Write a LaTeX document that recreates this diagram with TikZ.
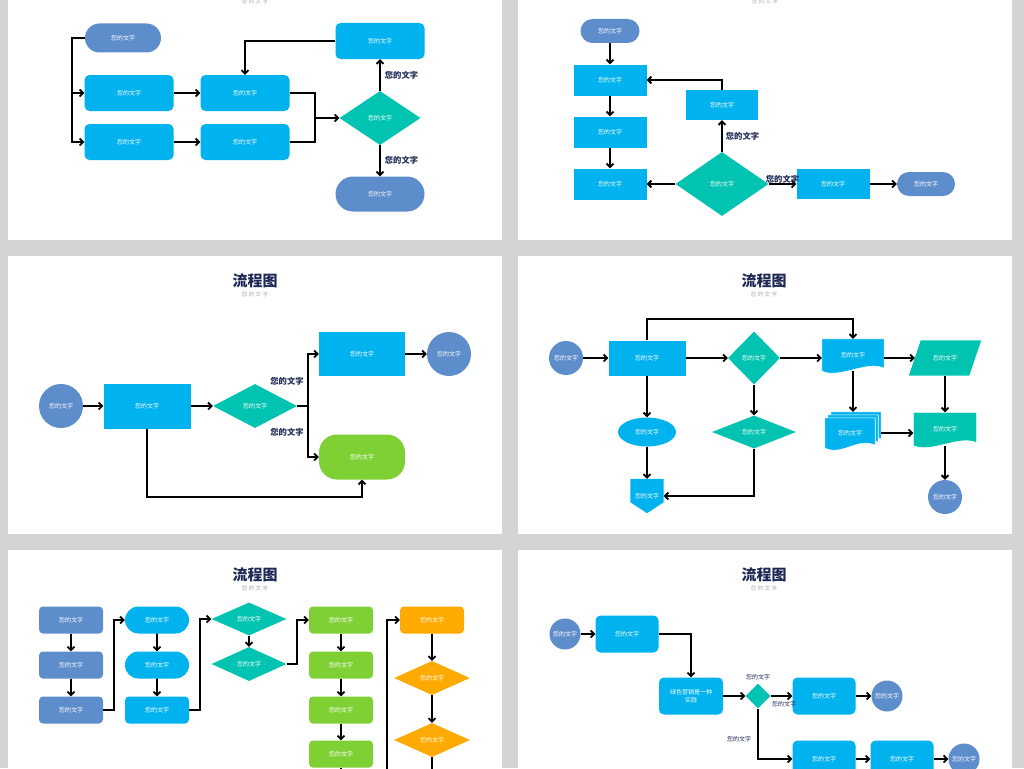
\documentclass[tikz,border=0pt]{standalone}
\usepackage{fontspec}
\newfontfamily\cjk{Noto Sans CJK SC}
\newfontfamily\cjksp{Noto Sans CJK SC}[LetterSpace=25]
\usetikzlibrary{shapes.geometric,shapes.misc,arrows.meta,calc}
\definecolor{bgc}{HTML}{D4D4D4}
\definecolor{steel}{HTML}{5E8DCB}
\definecolor{cyanc}{HTML}{00B2EE}
\definecolor{tealc}{HTML}{00C4B1}
\definecolor{greenc}{HTML}{7FD035}
\definecolor{orangec}{HTML}{FFAA00}
\definecolor{navy}{HTML}{1E2A55}
\definecolor{subgray}{HTML}{A9A9A9}
\pgfdeclarelayer{back}
\pgfdeclarelayer{shp}
\pgfsetlayers{back,shp,main}
\newcommand\mydocshape[3]{\filldraw[fill=#2,draw=white,line width=0.6pt] ($(#1.north west)+(#3)$) -- ($(#1.north east)+(#3)$) -- ($(#1.south east)+(#3)+(0,-3)$) .. controls +(-18,-8) and +(18,8) .. ($(#1.south west)+(#3)$) -- cycle;}
\tikzset{
  every node/.style={font=\cjk\fontsize{6}{8}\selectfont, text=white, inner sep=0pt, align=center},
  sz/.style 2 args={minimum width=#1pt, minimum height=#2pt},
  box/.style={rectangle, fill=cyanc},
  rbox/.style={rectangle, rounded corners=5pt},
  pill/.style={rounded rectangle},
  dia/.style={diamond, fill=tealc},
  circ/.style={circle, fill=steel},
  lbl/.style={font=\cjk\bfseries\fontsize{8.3}{9}\selectfont, text=navy},
  slbl/.style={font=\cjk\fontsize{6}{7}\selectfont, text=navy},
  ttl/.style={font=\cjk\bfseries\fontsize{15}{16}\selectfont, text=navy},
  sub/.style={font=\cjksp\fontsize{5.5}{6}\selectfont, text=subgray},
  ln/.style={draw=black, line width=1.8pt},
  arr/.style={ln, -{Straight Barb[length=3.5pt,width=7pt]}}
}
\begin{document}
\begin{tikzpicture}[x=1pt,y=-1pt]
\useasboundingbox (0,0) rectangle (1024,768);
\begin{pgfonlayer}{back}
\fill[bgc] (0,0) rectangle (1024,768);
\fill[white] (8,-5) rectangle (502,240);
\fill[white] (518,-5) rectangle (1012,240);
\fill[white] (8,256) rectangle (502,534);
\fill[white] (518,256) rectangle (1012,534);
\fill[white] (8,550) rectangle (502,775);
\fill[white] (518,550) rectangle (1012,775);
\end{pgfonlayer}

% ---------- Panel 1 ----------
\node[sub] (t1s) at (255,1) {您的文字};
\node[pill,fill=steel,sz={76}{29}] (a0) at (123,38) {您的文字};
\node[rbox,fill=cyanc,sz={89}{36}] (a1) at (129,93) {您的文字};
\node[rbox,fill=cyanc,sz={89}{36}] (a2) at (129,142) {您的文字};
\node[rbox,fill=cyanc,sz={89}{36}] (b1) at (245,93) {您的文字};
\node[rbox,fill=cyanc,sz={89}{36}] (b2) at (245,142) {您的文字};
\node[rbox,fill=cyanc,sz={89}{36}] (c1) at (380,41) {您的文字};
\node[dia,sz={81}{54}] (d1) at (380,118) {您的文字};
\node[pill,fill=steel,sz={89}{35}] (e1) at (380,194) {您的文字};
\coordinate (j1) at (72,93);
\coordinate (m1) at (315,118);
\draw[arr] (a0.west) -| (j1) |- (a2.west);
\draw[arr] (j1) -- (a1.west);
\draw[arr] (a1) -- (b1);
\draw[arr] (a2) -- (b2);
\draw[ln] (b1.east) -| (m1);
\draw[ln] (b2.east) -| (m1);
\draw[arr] (m1) -- (d1.west);
\draw[arr] (c1.west) -| (b1.north);
\draw[arr] (d1.north) -- node[lbl,right=4pt]{您的文字} (c1.south);
\draw[arr] (d1.south) -- node[lbl,right=4pt]{您的文字} (e1.north);

% ---------- Panel 2 ----------
\node[sub] (t2s) at (765,1) {您的文字};
\node[pill,fill=steel,sz={59}{24}] (q0) at (610,31) {您的文字};
\node[box,sz={73}{31}] (q1) at (610,80) {您的文字};
\node[box,sz={73}{31}] (q2) at (610,132) {您的文字};
\node[box,sz={73}{31}] (q3) at (610,184) {您的文字};
\node[box,sz={72}{30}] (q4) at (722,105) {您的文字};
\node[dia,sz={93}{64}] (qd) at (722,184) {您的文字};
\node[box,sz={73}{30}] (q5) at (833,184) {您的文字};
\node[pill,fill=steel,sz={58}{24}] (q6) at (926,184) {您的文字};
\draw[arr] (q0) -- (q1);
\draw[arr] (q1) -- (q2);
\draw[arr] (q2) -- (q3);
\draw[arr] (qd) -- (q3);
\draw[arr] (qd.north) -- node[lbl,right=3pt]{您的文字} (q4.south);
\draw[arr] (q4.north) |- (q1.east);
\draw[arr] (qd) -- node[lbl,yshift=5pt]{您的文字} (q5);
\draw[arr] (q5) -- (q6);

% ---------- Panel 3 ----------
\node[ttl] (t3) at (255,281) {流程图};
\node[sub] (t3s) at (255,294) {您的文字};
\node[circ,minimum size=44pt] (h0) at (61,406) {您的文字};
\node[box,sz={87}{45}] (h1) at (147,406) {您的文字};
\node[dia,sz={84}{44}] (h2) at (255,406) {您的文字};
\node[box,sz={86}{44}] (h3) at (362,354) {您的文字};
\node[circ,minimum size=44pt] (h4) at (449,354) {您的文字};
\node[rectangle,fill=greenc,rounded corners=18pt,sz={86}{45}] (h5) at (362,457) {您的文字};
\coordinate (m3) at (308,406);
\coordinate (k3) at (147,497);
\draw[arr] (h0) -- (h1);
\draw[arr] (h1) -- (h2);
\draw[ln] (h2.east) -- (m3);
\draw[arr] (m3) |- (h3.west);
\draw[arr] (m3) |- (h5.west);
\draw[arr] (h3) -- (h4);
\draw[arr] (h1.south) -- (k3) -| (h5.south);
\node[lbl] (l3a) at (287,381) {您的文字};
\node[lbl] (l3b) at (287,432) {您的文字};

% ---------- Panel 4 ----------
\node[ttl] (t4) at (764,281) {流程图};
\node[sub] (t4s) at (764,294) {您的文字};
\node[circ,minimum size=34pt] (f0) at (566,358) {您的文字};
\node[box,sz={77}{35}] (f1) at (647,358) {您的文字};
\node[dia,sz={52}{53}] (f2) at (754,358) {您的文字};
\node[sz={62}{32}] (f3) at (853,355) {您的文字};
\node[sz={60}{35}] (f4) at (945,358) {您的文字};
\node[ellipse,fill=cyanc,sz={58}{29}] (f5) at (647,432) {您的文字};
\node[dia,sz={84}{33}] (f6) at (754,432) {您的文字};
\node[sz={50}{30}] (f7) at (850,433) {您的文字};
\node[sz={63}{33}] (f8) at (945,429) {您的文字};
\node[sz={33}{34}] (f9) at (647,496) {您的文字};
\node[circ,minimum size=34pt] (f10) at (945,497) {您的文字};
\begin{pgfonlayer}{shp}
\mydocshape{f3}{cyanc}{0,0}
\fill[tealc] ($(f4.north west)+(6,0)$) -- ($(f4.north east)+(6,0)$) -- ($(f4.south east)+(-6,0)$) -- ($(f4.south west)+(-6,0)$) -- cycle;
\mydocshape{f7}{cyanc}{6,-6}
\mydocshape{f7}{cyanc}{3,-3}
\mydocshape{f7}{cyanc}{0,0}
\mydocshape{f8}{tealc}{0,0}
\fill[cyanc] (f9.north west) -- (f9.north east) -- ($(f9.south east)+(0,-11)$) -- (f9.south) -- ($(f9.south west)+(0,-11)$) -- cycle;
\end{pgfonlayer}
\draw[arr] (f0) -- (f1);
\draw[arr] (f1) -- (f2);
\draw[arr] (f2.east) -- (f2.east -| f3.west);
\draw[arr] (f3.east |- f4.west) -- (f4.west);
\draw[arr] (f1.north) -- ++(0,-21) -| (f3.north);
\draw[arr] (f1) -- (f5);
\draw[arr] (f2) -- (f6);
\draw[arr] (f3.south) -- ($(f3.south |- f7.north)+(0,-6)$);
\draw[arr] ($(f7.east)+(6,0)$) -- (f8.west |- f7.east);
\draw[arr] (f4.south) -- (f8.north);
\draw[arr] (f8.south) -- (f10.north);
\draw[arr] (f5.south) -- (f9.north);
\draw[arr] (f6.south) |- (f9.east);

% ---------- Panel 5 ----------
\node[ttl] (t5) at (255,575) {流程图};
\node[sub] (t5s) at (255,588) {您的文字};
\node[rbox,fill=steel,rounded corners=4pt,sz={64}{27}] (u1) at (71,620) {您的文字};
\node[rbox,fill=steel,rounded corners=4pt,sz={64}{27}] (u2) at (71,665) {您的文字};
\node[rbox,fill=steel,rounded corners=4pt,sz={64}{27}] (u3) at (71,710) {您的文字};
\node[pill,fill=cyanc,sz={64}{27}] (v1) at (157,620) {您的文字};
\node[pill,fill=cyanc,sz={64}{27}] (v2) at (157,665) {您的文字};
\node[rbox,fill=cyanc,rounded corners=4pt,sz={64}{27}] (v3) at (157,710) {您的文字};
\node[dia,sz={75}{33}] (w1) at (249,619) {您的文字};
\node[dia,sz={75}{34}] (w2) at (249,664) {您的文字};
\node[rbox,fill=greenc,rounded corners=4pt,sz={64}{27}] (x1) at (341,620) {您的文字};
\node[rbox,fill=greenc,rounded corners=4pt,sz={64}{27}] (x2) at (341,665) {您的文字};
\node[rbox,fill=greenc,rounded corners=4pt,sz={64}{27}] (x3) at (341,710) {您的文字};
\node[rbox,fill=greenc,rounded corners=4pt,sz={64}{27}] (x4) at (341,754) {您的文字};
\node[rbox,fill=orangec,rounded corners=4pt,sz={64}{27}] (o1) at (432,620) {您的文字};
\node[dia,fill=orangec,sz={76}{34}] (o2) at (432,678) {您的文字};
\node[dia,fill=orangec,sz={76}{34}] (o3) at (432,740) {您的文字};
\coordinate (o5in) at (387,775);
\draw[arr] (u1) -- (u2);
\draw[arr] (u2) -- (u3);
\draw[arr] (u3.east) -- ++(11,0) |- (v1.west);
\draw[arr] (v1) -- (v2);
\draw[arr] (v2) -- (v3);
\draw[arr] (v3.east) -- ++(11,0) |- (w1.west);
\draw[arr] (w1) -- (w2);
\draw[arr] (w2.east) -- ++(10,0) |- (x1.west);
\draw[arr] (x1) -- (x2);
\draw[arr] (x2) -- (x3);
\draw[arr] (x3) -- (x4);
\draw[ln] (x4.south) -- ++(0,20);
\draw[arr] (o5in) |- (o1.west);
\draw[arr] (o1) -- (o2);
\draw[arr] (o2) -- (o3);
\draw[ln] (o3.south) -- ++(0,20);

% ---------- Panel 6 ----------
\node[ttl] (t6) at (764,575) {流程图};
\node[sub] (t6s) at (764,588) {您的文字};
\node[circ,minimum size=31pt] (y0) at (565,634) {您的文字};
\node[rbox,fill=cyanc,sz={63}{37}] (y1) at (627,634) {您的文字};
\node[rbox,fill=cyanc,sz={64}{37}] (y2) at (691,696) {绿色营销是一种\\实践};
\node[dia,sz={25}{25}] (y3) at (758,696) {};
\node[rbox,fill=cyanc,sz={63}{37}] (y4) at (824,696) {您的文字};
\node[circ,minimum size=31pt] (y5) at (887,696) {您的文字};
\node[rbox,fill=cyanc,sz={63}{37}] (y6) at (824,759) {您的文字};
\node[rbox,fill=cyanc,sz={63}{37}] (y7) at (902,759) {您的文字};
\node[circ,minimum size=31pt] (y8) at (964,759) {您的文字};
\node[slbl] (l6a) at (758,677) {您的文字};
\node[slbl] (l6b) at (784,704) {您的文字};
\node[slbl] (l6c) at (739,739) {您的文字};
\draw[arr] (y0) -- (y1);
\draw[arr] (y1.east) -| (y2.north);
\draw[arr] (y2) -- (y3);
\draw[arr] (y3) -- (y4);
\draw[arr] (y4) -- (y5);
\draw[arr] (y3.south) |- (y6.west);
\draw[arr] (y6) -- (y7);
\draw[arr] (y7) -- (y8);
\end{tikzpicture}
\end{document}
